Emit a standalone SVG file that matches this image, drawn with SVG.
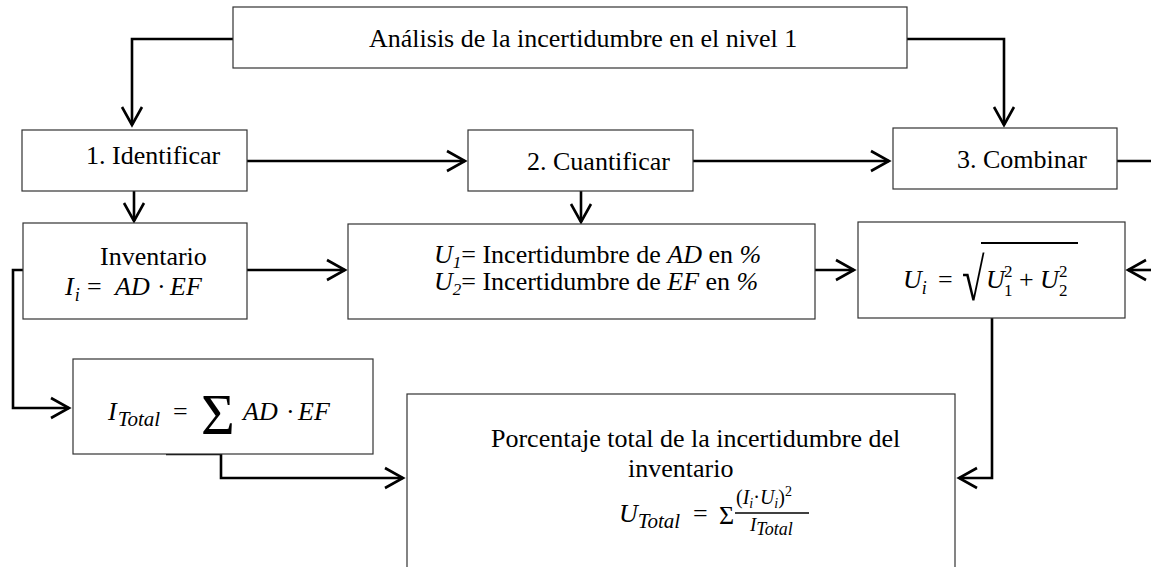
<svg xmlns="http://www.w3.org/2000/svg" width="1151" height="567" viewBox="0 0 1151 567">
<style>
.box{fill:#fff;stroke:#333;stroke-width:1.2}
.t{font-family:'Liberation Serif','DejaVu Serif',serif;font-size:26px;fill:#000}
.m{font-family:'Liberation Serif','DejaVu Serif',serif;font-style:italic;font-size:26px;fill:#000}
.up{font-style:normal}
.c{fill:none;stroke:#000;stroke-width:2.6}
</style>
<defs>
<marker id="ah" markerUnits="userSpaceOnUse" viewBox="-22 -14 26 28" markerWidth="26" markerHeight="28" refX="0" refY="0" orient="auto">
<path d="M-18,-10 L0,0 L-18,10" fill="none" stroke="#000" stroke-width="2.6"/>
</marker>
</defs>
<rect width="1151" height="567" fill="#fff"/>
<g id="connectors">
<polyline class="c" points="233,39 132,39 132,125" marker-end="url(#ah)"/>
<polyline class="c" points="907,39 1004,39 1004,125" marker-end="url(#ah)"/>
<line class="c" x1="247" y1="161" x2="465" y2="161" marker-end="url(#ah)"/>
<line class="c" x1="693" y1="161" x2="889" y2="161" marker-end="url(#ah)"/>
<line class="c" x1="1117" y1="161" x2="1151" y2="161"/>
<line class="c" x1="134" y1="191" x2="134" y2="221" marker-end="url(#ah)"/>
<line class="c" x1="581" y1="191" x2="581" y2="222" marker-end="url(#ah)"/>
<line class="c" x1="247" y1="270" x2="345" y2="270" marker-end="url(#ah)"/>
<line class="c" x1="815" y1="270" x2="854" y2="270" marker-end="url(#ah)"/>
<line class="c" x1="1151" y1="270" x2="1128" y2="270" marker-end="url(#ah)"/>
<polyline class="c" points="23,270 13,270 13,408 69,408" marker-end="url(#ah)"/>
<polyline class="c" points="166,454 221,454 221,478 403,478" marker-end="url(#ah)"/>
<polyline class="c" points="992,318 992,478 959,478" marker-end="url(#ah)"/>
</g>
<g id="n-analisis">
<rect class="box" x="233" y="7" width="674" height="61"/>
<text class="t" x="369" y="47">Análisis de la incertidumbre en el nivel 1</text>
</g>
<g id="n-identificar">
<rect class="box" x="22" y="130" width="225" height="61"/>
<text class="t" x="86" y="164">1. Identificar</text>
</g>
<g id="n-cuantificar">
<rect class="box" x="468" y="130" width="225" height="61"/>
<text class="t" x="527" y="170">2. Cuantificar</text>
</g>
<g id="n-combinar">
<rect class="box" x="893" y="128" width="224" height="61"/>
<text class="t" x="957" y="168">3. Combinar</text>
</g>
<g id="n-inventario">
<rect class="box" x="23" y="223" width="224" height="96"/>
<text class="t" x="100" y="265">Inventario</text>
<text class="m" x="65" y="295">I<tspan dx="1" dy="6" style="font-size:18px">i</tspan><tspan x="87" y="295" class="up">=</tspan><tspan x="115">AD</tspan><tspan x="157" class="up">·</tspan><tspan x="170">EF</tspan></text>
</g>
<g id="n-incertidumbre">
<rect class="box" x="348" y="224" width="467" height="95"/>
<text class="t" x="434" y="263"><tspan font-style="italic">U</tspan><tspan font-style="italic" style="font-size:17px" dy="5">1</tspan><tspan dy="-5">= Incertidumbre de </tspan><tspan font-style="italic">AD</tspan><tspan> en </tspan><tspan font-style="italic">%</tspan></text>
<text class="t" x="434" y="290"><tspan font-style="italic">U</tspan><tspan font-style="italic" style="font-size:17px" dy="5">2</tspan><tspan dy="-5">= Incertidumbre de </tspan><tspan font-style="italic">EF</tspan><tspan> en </tspan><tspan font-style="italic">%</tspan></text>
</g>
<g id="n-ui">
<rect class="box" x="858" y="222" width="267" height="96"/>
<text class="m" x="903" y="288">U<tspan dy="6" style="font-size:18px">i</tspan><tspan x="938" y="288" class="up">=</tspan><tspan x="986">U</tspan><tspan x="1004" y="277" style="font-size:17px" class="up">2</tspan><tspan x="1004" y="296" style="font-size:17px" class="up">1</tspan><tspan x="1019" y="288" class="up">+</tspan><tspan x="1040">U</tspan><tspan x="1059" y="277" style="font-size:17px" class="up">2</tspan><tspan x="1059" y="296" style="font-size:17px" class="up">2</tspan></text>
<text class="t" x="0" y="0" style="font-size:50px" transform="translate(962,300) scale(0.82,1.2)">√</text>
<line x1="981" y1="243" x2="1078" y2="243" stroke="#000" stroke-width="2"/>
</g>
<g id="n-itotal">
<rect class="box" x="73" y="359" width="300" height="95"/>
<text class="m" x="108" y="420">I<tspan dx="1" dy="6" style="font-size:21px">Total</tspan><tspan x="173" y="420" class="up">=</tspan><tspan x="201" y="434" style="font-size:58px" class="up">Σ</tspan><tspan x="243" y="420">AD</tspan><tspan x="286" class="up">·</tspan><tspan x="298">EF</tspan></text>
</g>
<g id="n-porcentaje">
<rect class="box" x="407" y="394" width="548" height="190"/>
<text class="t" x="491" y="447">Porcentaje total de la incertidumbre del</text>
<text class="t" x="628" y="477">inventario</text>
<text class="m" x="619" y="522">U<tspan dy="6" style="font-size:21px">Total</tspan><tspan x="693" y="522" class="up">=</tspan><tspan x="719" y="524" class="up">Σ</tspan></text>
<text class="m" style="font-size:20px" x="736" y="504"><tspan class="up">(</tspan><tspan>I</tspan><tspan style="font-size:14px" dy="4">i</tspan><tspan dy="-4" class="up">·</tspan><tspan>U</tspan><tspan style="font-size:14px" dy="4">i</tspan><tspan dy="-4" class="up">)</tspan><tspan style="font-size:14px" dy="-8" class="up">2</tspan></text>
<line x1="735" y1="513" x2="809" y2="513" stroke="#000" stroke-width="1.5"/>
<text class="m" style="font-size:19px" x="750" y="531">I<tspan style="font-size:18px" dy="4">Total</tspan></text>
</g>
</svg>
